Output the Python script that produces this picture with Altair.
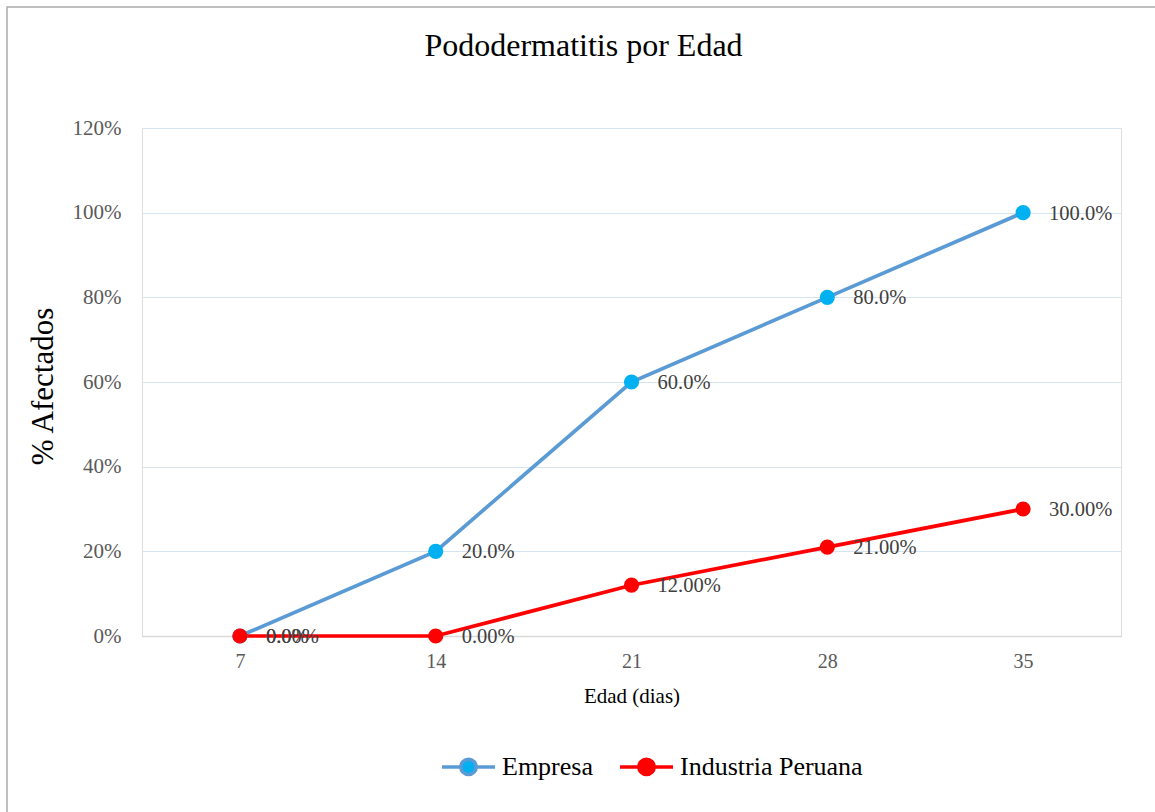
import altair as alt
import pandas as pd

edades = [7, 14, 21, 28, 35]
empresa = [0.0, 0.20, 0.60, 0.80, 1.00]
industria = [0.0, 0.0, 0.12, 0.21, 0.30]
series = ["Empresa", "Industria Peruana"]

rows = []
for e, v in zip(edades, empresa):
    rows.append({"serie": series[0], "edad": e, "valor": v, "etiqueta": f"{v*100:.1f}%"})
for e, v in zip(edades, industria):
    rows.append({"serie": series[1], "edad": e, "valor": v, "etiqueta": f"{v*100:.2f}%"})
df = pd.DataFrame(rows)

SERIF = "Liberation Serif"
W, H = 979, 508
LEFT, TOP = 142, 128

legend_path = ("M-1,0H-0.29M0.29,0H1M-0.29,0A0.29,0.29,0,1,1,0.29,0"
               "A0.29,0.29,0,1,1,-0.29,0Z")
leg = dict(title=None, orient="none", direction="horizontal",
           legendX=298, legendY=610, symbolType=legend_path, symbolSize=2809,
           symbolStrokeWidth=3.5, labelFont=SERIF, labelFontSize=26,
           labelColor="black", labelOffset=5, columnPadding=20, labelLimit=400)

x = alt.X("edad:O", scale=alt.Scale(type="point", padding=0.5),
          axis=alt.Axis(title="Edad (dias)", labelAngle=0, ticks=False,
                        labelPadding=15, labelFont=SERIF, labelFontSize=20,
                        labelColor="#595959", titleFont=SERIF, titleFontSize=21,
                        titleFontWeight="normal", titleColor="black",
                        titlePadding=14, domainColor="#D9D9D9", domainWidth=1.5,
                        grid=False))
y = alt.Y("valor:Q", scale=alt.Scale(domain=[0, 1.2]),
          axis=alt.Axis(title="% Afectados", values=[0, 0.2, 0.4, 0.6, 0.8, 1.0, 1.2],
                        format=".0%", ticks=False, domain=False, labelPadding=21,
                        labelFont=SERIF, labelFontSize=21, labelColor="#595959",
                        titleFont=SERIF, titleFontSize=31, titleFontWeight="normal",
                        titleColor="black", titleX=-99, titleY=258, titleAngle=-90,
                        titleAlign="center", titleBaseline="middle",
                        gridColor="#D6E4F0", gridWidth=1.2))

base = alt.Chart(df)

lines = base.mark_line(strokeWidth=3.7).encode(
    x=x, y=y,
    stroke=alt.Stroke("serie:N", scale=alt.Scale(domain=series, range=["#5B9BD5", "#FF0000"]),
                      legend=alt.Legend(**leg)),
    detail="serie:N",
)
points = base.mark_point(filled=True, size=230, opacity=1, strokeWidth=0, shape="circle").encode(
    x=x, y=y,
    fill=alt.Fill("serie:N", scale=alt.Scale(domain=series, range=["#00B0F0", "#FF0000"]),
                  legend=alt.Legend(**leg)),
)
labels = base.mark_text(align="left", baseline="middle", dx=26, dy=1, font=SERIF,
                        fontSize=20.5, color="#404040").encode(
    x=x, y=y, text="etiqueta:N"
)

frame = alt.Chart(pd.DataFrame({"a": [0]})).mark_rect(
    fill=None, stroke="#ABABAB", strokeWidth=1.5
).encode(
    x=alt.value(7 - LEFT), x2=alt.value(1170 - LEFT),
    y=alt.value(7 - TOP), y2=alt.value(830 - TOP),
)

chart = alt.layer(frame, lines, points, labels).properties(
    width=W, height=H,
    title=alt.TitleParams("Pododermatitis por Edad", font=SERIF, fontSize=32,
                          fontWeight="normal", color="black", anchor="middle",
                          baseline="alphabetic", dx=-48, dy=82, offset=0),
    autosize=alt.AutoSizeParams(type="none"),
    padding={"left": LEFT, "top": TOP, "right": 1155 - LEFT - W, "bottom": 812 - TOP - H},
).configure_view(stroke="#BFBFBF", strokeWidth=1.5).configure(
    background="white"
).configure_legend(labelFont=SERIF, labelFontSize=26, labelColor="black", labelLimit=400)

chart.save("out.html", embed_options={"renderer": "svg", "actions": False})
